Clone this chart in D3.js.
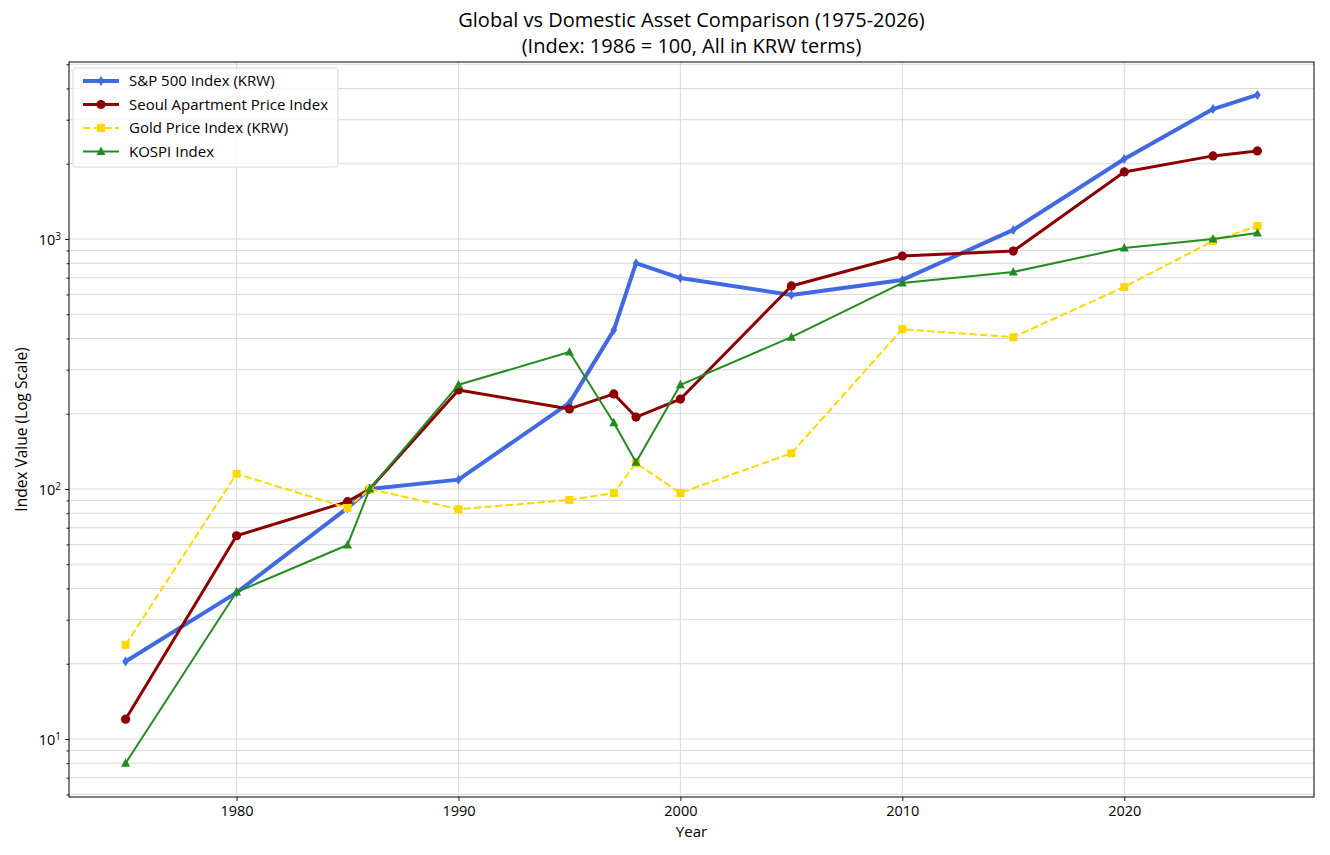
<!DOCTYPE html>
<html>
<head>
<meta charset="utf-8">
<script src="https://cdn.jsdelivr.net/npm/d3@7"></script>
<style>
  body { margin: 0; background: #fff; }
  svg text { font-family: 'Open Sans', Roboto, sans-serif; }
</style>
</head>
<body>
<svg id="chart" width="1330" height="855"></svg>
<script>
// ---------- DATA ----------
const years = [1975, 1980, 1985, 1986, 1990, 1995, 1997, 1998, 2000, 2005, 2010, 2015, 2020, 2024, 2026];
const spKrw   = [20.4, 38.5, 84, 100, 109, 221, 432, 800, 698, 597, 686, 1087, 2090, 3310, 3770];
const seoulApt = [12, 65, 89, 100, 249, 209, 240, 194, 229, 649, 855, 895, 1855, 2150, 2250];
const goldKrw = [23.8, 115, 84, 100, 83, 90.4, 96.4, 127, 96.4, 139, 436, 405, 643, 982, 1127];
const kospi   = [8.0, 38.7, 59.7, 100, 261, 353, 184, 128, 261, 405, 667, 738, 920, 1000, 1057];

const xTicks = [1980, 1990, 2000, 2010, 2020];
const yMajor = [10, 100, 1000];

const series = [
  { name: 'S&P 500 Index (KRW)', values: spKrw, color: '#4169E1', width: 4, marker: 'thin_diamond', dash: null },
  { name: 'Seoul Apartment Price Index', values: seoulApt, color: '#8B0000', width: 3, marker: 'circle', dash: null },
  { name: 'Gold Price Index (KRW)', values: goldKrw, color: '#FFD700', width: 2, marker: 'square', dash: '7.4,3.2' },
  { name: 'KOSPI Index', values: kospi, color: '#228B22', width: 2, marker: 'triangle', dash: null },
];

// ---------- LAYOUT ----------
const svg = d3.select('#chart');
const margin = { top: 62, right: 16, bottom: 58, left: 69 };
const width = +svg.attr('width');
const height = +svg.attr('height');
const w = width - margin.left - margin.right;
const h = height - margin.top - margin.bottom;

const g = svg.append('g').attr('transform', `translate(${margin.left},${margin.top})`);

const x = d3.scaleLinear().domain([1972.45, 2028.55]).range([0, w]);
const y = d3.scaleLog().domain([5.86, 5105]).range([h, 0]);

// minor log ticks
const yMinor = [];
for (let dec = 1; dec <= 1000; dec *= 10) {
  for (let k = 1; k <= 9; k++) {
    const v = k * dec;
    if (v >= y.domain()[0] && v <= y.domain()[1]) yMinor.push(v);
  }
}

// ---------- GRID ----------
g.append('g')
  .selectAll('line')
  .data(yMinor)
  .join('line')
  .attr('x1', 0)
  .attr('x2', w)
  .attr('y1', (d) => y(d))
  .attr('y2', (d) => y(d))
  .attr('stroke', '#d9d9d9')
  .attr('stroke-width', 1);

g.append('g')
  .selectAll('line')
  .data(xTicks)
  .join('line')
  .attr('x1', (d) => x(d))
  .attr('x2', (d) => x(d))
  .attr('y1', 0)
  .attr('y2', h)
  .attr('stroke', '#d9d9d9')
  .attr('stroke-width', 1);

// ---------- AXES ----------
const xAxis = g.append('g')
  .attr('transform', `translate(0,${h})`)
  .call(d3.axisBottom(x).tickValues(xTicks).tickFormat(d3.format('d')).tickSize(4).tickPadding(5));

const yAxisMinor = g.append('g')
  .call(d3.axisLeft(y).tickValues(yMinor.filter((v) => !yMajor.includes(v))).tickFormat('').tickSize(2.5));

const yAxis = g.append('g')
  .call(d3.axisLeft(y).tickValues(yMajor).tickFormat('').tickSize(4));

[xAxis, yAxis, yAxisMinor].forEach((a) => {
  a.select('.domain').remove();
  a.selectAll('line').attr('stroke', '#000').attr('stroke-width', 0.9);
});
xAxis.selectAll('text').attr('font-size', 14.5).attr('fill', '#000');

// superscript labels for log axis
yAxis.selectAll('.tick').each(function (d) {
  const t = d3.select(this).append('text')
    .attr('x', -8)
    .attr('dy', '0.35em')
    .attr('text-anchor', 'end')
    .attr('font-size', 14.5)
    .attr('fill', '#000');
  t.append('tspan').text('10');
  t.append('tspan').attr('dy', '-0.5em').attr('font-size', 10).text(Math.round(Math.log10(d)));
});

// frame
g.append('rect')
  .attr('width', w)
  .attr('height', h)
  .attr('fill', 'none')
  .attr('stroke', '#000')
  .attr('stroke-width', 1);

// ---------- SERIES ----------
function markerPath(type, cx, cy) {
  if (type === 'thin_diamond') {
    return `M${cx},${cy - 5}L${cx + 3.3},${cy}L${cx},${cy + 5}L${cx - 3.3},${cy}Z`;
  }
  if (type === 'square') {
    return `M${cx - 4},${cy - 4}h8v8h-8Z`;
  }
  if (type === 'triangle') {
    return `M${cx},${cy - 5}L${cx + 4.5},${cy + 3.5}L${cx - 4.5},${cy + 3.5}Z`;
  }
  return null;
}

function drawMarker(sel, s, cx, cy) {
  if (s.marker === 'circle') {
    sel.append('circle').attr('cx', cx).attr('cy', cy).attr('r', 4.6).attr('fill', s.color);
  } else {
    sel.append('path').attr('d', markerPath(s.marker, cx, cy)).attr('fill', s.color);
  }
}

const line = d3.line()
  .x((d) => x(d[0]))
  .y((d) => y(d[1]));

series.forEach((s) => {
  const pts = years.map((yr, i) => [yr, s.values[i]]);
  const sg = g.append('g');
  sg.append('path')
    .datum(pts)
    .attr('fill', 'none')
    .attr('stroke', s.color)
    .attr('stroke-width', s.width)
    .attr('stroke-linejoin', 'round')
    .attr('stroke-dasharray', s.dash)
    .attr('d', line);
  pts.forEach((p) => drawMarker(sg, s, x(p[0]), y(p[1])));
});

// ---------- LEGEND ----------
const legend = g.append('g').attr('transform', 'translate(4,6)');
legend.append('rect')
  .attr('width', 265)
  .attr('height', 99)
  .attr('rx', 3)
  .attr('fill', '#fff')
  .attr('fill-opacity', 0.8)
  .attr('stroke', '#d6d6d6');

series.forEach((s, i) => {
  const cy = 13 + i * 23.5;
  const row = legend.append('g');
  row.append('line')
    .attr('x1', 10)
    .attr('x2', 46)
    .attr('y1', cy)
    .attr('y2', cy)
    .attr('stroke', s.color)
    .attr('stroke-width', s.width)
    .attr('stroke-dasharray', s.dash);
  drawMarker(row, s, 28, cy);
  row.append('text')
    .attr('x', 56)
    .attr('y', cy)
    .attr('dy', '0.35em')
    .attr('font-size', 15)
    .attr('fill', '#000')
    .text(s.name);
});

// ---------- TITLES ----------
const titleLines = ['Global vs Domestic Asset Comparison (1975-2026)', '(Index: 1986 = 100, All in KRW terms)'];
titleLines.forEach((t, i) => {
  svg.append('text')
    .attr('x', margin.left + w / 2)
    .attr('y', 27 + i * 26)
    .attr('text-anchor', 'middle')
    .attr('font-size', 20)
    .attr('fill', '#000')
    .text(t);
});

svg.append('text')
  .attr('x', margin.left + w / 2)
  .attr('y', 837)
  .attr('text-anchor', 'middle')
  .attr('font-size', 15)
  .attr('fill', '#000')
  .text('Year');

svg.append('text')
  .attr('transform', `translate(27,${margin.top + h / 2}) rotate(-90)`)
  .attr('text-anchor', 'middle')
  .attr('font-size', 15.5)
  .attr('fill', '#000')
  .text('Index Value (Log Scale)');
</script>
</body>
</html>
